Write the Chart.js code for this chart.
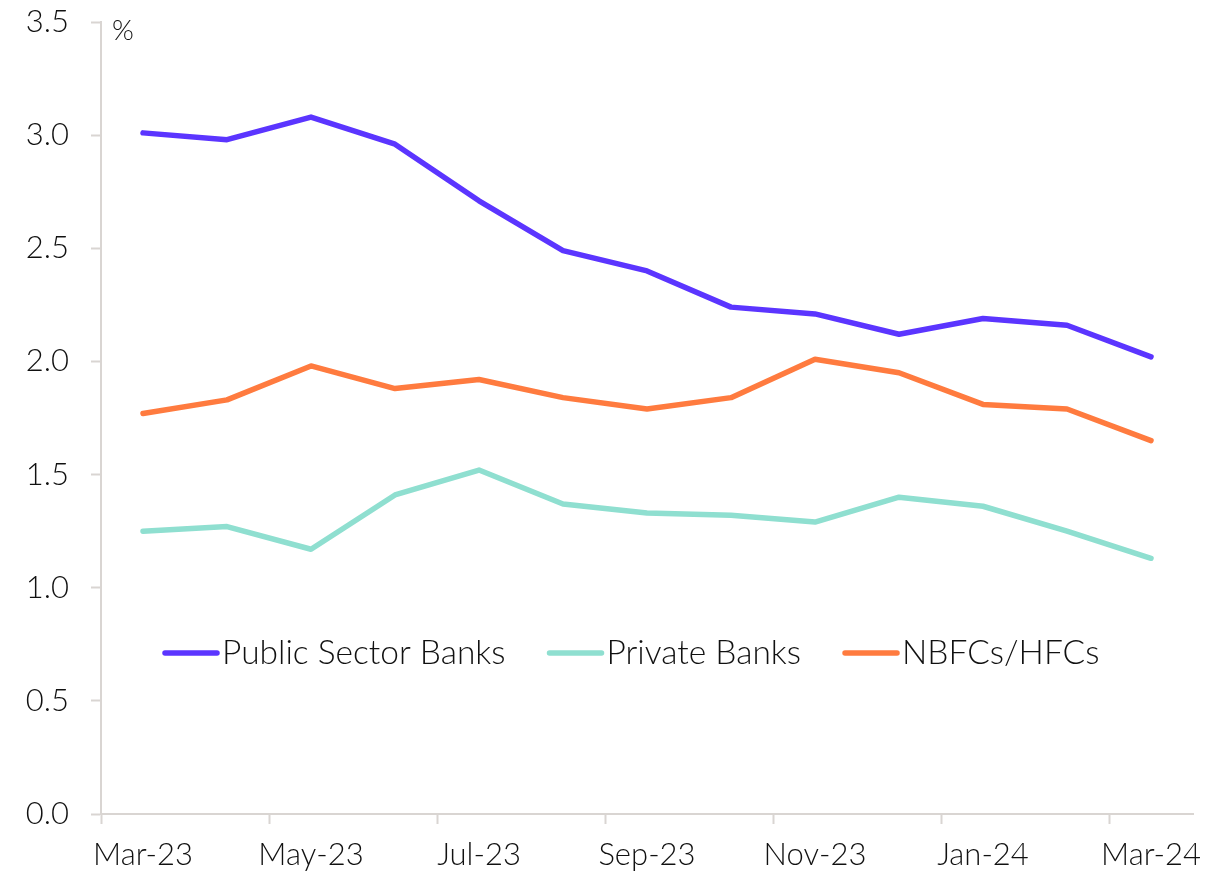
<!DOCTYPE html>
<html>
<head>
<meta charset="utf-8">
<script src="https://cdn.jsdelivr.net/npm/chart.js@4/dist/chart.umd.min.js"></script>
<style>
html,body{margin:0;padding:0;background:#fff;}
#wrap{position:relative;width:1225px;height:874px;}
</style>
</head>
<body>
<div id="wrap"><canvas id="c" width="1225" height="874"></canvas></div>
<script>
const categories = ["Mar-23","Apr-23","May-23","Jun-23","Jul-23","Aug-23","Sep-23","Oct-23","Nov-23","Dec-23","Jan-24","Feb-24","Mar-24"];
const publicSectorBanks = [3.01, 2.98, 3.08, 2.96, 2.71, 2.49, 2.40, 2.24, 2.21, 2.12, 2.19, 2.16, 2.02];
const privateBanks      = [1.25, 1.27, 1.17, 1.41, 1.52, 1.37, 1.33, 1.32, 1.29, 1.40, 1.36, 1.25, 1.13];
const nbfcsHfcs         = [1.77, 1.83, 1.98, 1.88, 1.92, 1.84, 1.79, 1.84, 2.01, 1.95, 1.81, 1.79, 1.65];
const seriesNames = ["Public Sector Banks", "Private Banks", "NBFCs/HFCs"];
const yTicks = [0, 0.5, 1.0, 1.5, 2.0, 2.5, 3.0, 3.5];
const unitLabel = "%";

const FONT = "Lato, 'Open Sans', sans-serif";
const AXIS = "#D9D5D2";
const TEXT = "#111111";
const colors = ["#5B35FF", "#8FDFD0", "#FF7B3F"];

Chart.defaults.font.family = FONT;
Chart.defaults.font.weight = '300';
Chart.defaults.color = TEXT;

const extras = {
  id: 'extras',
  afterDraw(chart) {
    const ctx = chart.ctx, a = chart.chartArea;
    ctx.save();
    ctx.fillStyle = TEXT;
    ctx.font = "300 28px " + FONT;
    ctx.textBaseline = 'middle';
    ctx.textAlign = 'left';
    ctx.fillText(unitLabel, a.left + 11, a.top + 9);
    // legend inside plot
    ctx.font = "300 33.5px " + FONT;
    let x = 163;
    const y = 653;
    chart.data.datasets.forEach((ds, i) => {
      ctx.strokeStyle = ds.borderColor;
      ctx.lineWidth = 5.5;
      ctx.lineCap = 'round';
      ctx.beginPath();
      ctx.moveTo(x + 2, y);
      ctx.lineTo(x + 54, y);
      ctx.stroke();
      ctx.fillStyle = TEXT;
      ctx.fillText(ds.label, x + 59, y);
      x += 59 + ctx.measureText(ds.label).width + 42;
    });
    ctx.restore();
  }
};

new Chart(document.getElementById('c'), {
  type: 'line',
  data: {
    labels: categories,
    datasets: [
      {label: seriesNames[0], data: publicSectorBanks, borderColor: colors[0]},
      {label: seriesNames[1], data: privateBanks, borderColor: colors[1]},
      {label: seriesNames[2], data: nbfcsHfcs, borderColor: colors[2]}
    ].map(d => Object.assign(d, {borderWidth: 5.5, pointRadius: 0, tension: 0, fill: false, borderCapStyle: 'round', borderJoinStyle: 'round', backgroundColor: d.borderColor}))
  },
  options: {
    responsive: false,
    animation: false,
    events: [],
    layout: {padding: {top: 22, right: 32, left: 0, bottom: 0}},
    plugins: {legend: {display: false}, tooltip: {enabled: false}, title: {display: false}},
    scales: {
      x: {
        type: 'category',
        offset: true,
        afterFit(s) { s.height = 60; s.paddingLeft = 0; s.paddingRight = 0; },
        border: {display: true, color: AXIS, width: 2},
        grid: {
          offset: true,
          drawOnChartArea: false,
          drawTicks: true,
          tickLength: 10,
          tickWidth: 2,
          tickColor: ctx => (ctx.index % 2 === 0 ? AXIS : 'rgba(0,0,0,0)')
        },
        ticks: {
          autoSkip: false,
          maxRotation: 0,
          padding: 12,
          font: {size: 31, weight: '300'},
          color: TEXT,
          callback: function(v, i) { return i % 2 === 0 ? this.getLabelForValue(v) : ''; }
        }
      },
      y: {
        min: 0, max: 3.5,
        afterFit(s) { s.width = 101; s.paddingTop = 0; s.paddingBottom = 0; },
        afterBuildTicks(s) { s.ticks = yTicks.map(v => ({value: v})); },
        border: {display: true, color: AXIS, width: 2},
        grid: {drawOnChartArea: false, drawTicks: true, tickLength: 10, tickWidth: 2, tickColor: AXIS},
        ticks: {
          padding: 22,
          font: {size: 31, weight: '300'},
          color: TEXT,
          callback: v => Number(v).toFixed(1)
        }
      }
    }
  },
  plugins: [extras]
});
</script>
</body>
</html>
